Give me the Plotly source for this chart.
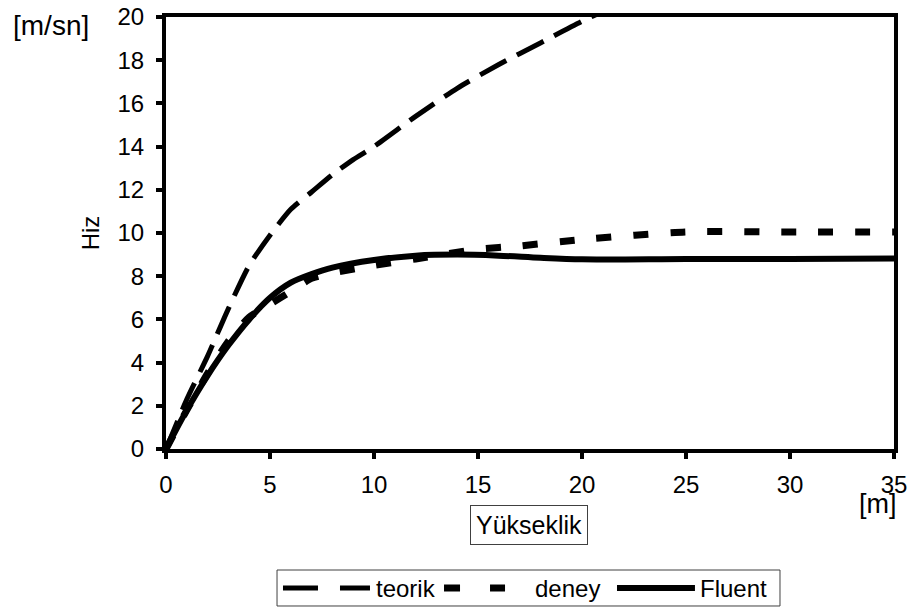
import plotly.graph_objects as go

# Yükseklik [m]
teorik_x = [0, 1, 2, 3, 4, 5, 6, 7, 8, 9, 10, 12, 14, 16, 18, 20, 22]
teorik_y = [0, 2.3, 4.3, 6.5, 8.5, 9.9, 11.1, 11.9, 12.7, 13.4, 14.0, 15.4, 16.7, 17.8, 18.8, 19.8, 20.7]

deney_x = [0, 1, 2, 3, 4, 5, 6, 7, 8, 10, 12, 15, 17, 20, 25, 30, 35]
deney_y = [0, 1.8, 3.5, 5.0, 6.1, 6.7, 7.3, 7.9, 8.15, 8.5, 8.8, 9.25, 9.4, 9.7, 10.05, 10.05, 10.05]

fluent_x = [0, 1, 2, 3, 4, 5, 6, 7, 8, 10, 12, 14, 16, 18, 20, 25, 30, 35]
fluent_y = [0, 1.8, 3.4, 4.8, 6.0, 7.0, 7.7, 8.1, 8.4, 8.75, 8.95, 9.0, 8.95, 8.85, 8.78, 8.8, 8.8, 8.82]

x_ticks = [0, 5, 10, 15, 20, 25, 30, 35]
y_ticks = [0, 2, 4, 6, 8, 10, 12, 14, 16, 18, 20]

series_names = ["teorik", "deney", "Fluent"]

FONT = "Liberation Sans, Arial, sans-serif"

styles = {
    "teorik": dict(color="black", width=5, dash="30px,12px"),
    "deney": dict(color="black", width=7, dash="15px,22px"),
    "Fluent": dict(color="black", width=6, dash="solid"),
}

fig = go.Figure()
fig.add_trace(go.Scatter(x=teorik_x, y=teorik_y, mode="lines", name=series_names[0],
                         line=dict(**styles["teorik"], shape="spline", smoothing=0.6)))
fig.add_trace(go.Scatter(x=deney_x, y=deney_y, mode="lines", name=series_names[1],
                         line=dict(**styles["deney"], shape="spline", smoothing=0.6)))
fig.add_trace(go.Scatter(x=fluent_x, y=fluent_y, mode="lines", name=series_names[2],
                         line=dict(**styles["Fluent"], shape="spline", smoothing=0.8)))

# Custom legend (Excel-style long samples), paper coordinates
LEG_Y = -0.3218
shapes = [
    dict(type="rect", xref="paper", yref="paper", x0=0.1525, x1=0.8434, y0=-0.3634, y1=-0.2801,
         line=dict(color="#404040", width=1), fillcolor="white", layer="above"),
    dict(type="line", xref="paper", yref="paper", x0=0.1607, x1=0.2802, y0=LEG_Y, y1=LEG_Y,
         line=dict(color="black", width=5, dash="35px,22px")),
    dict(type="line", xref="paper", yref="paper", x0=0.3819, x1=0.4657, y0=LEG_Y, y1=LEG_Y,
         line=dict(color="black", width=7, dash="16px,30px")),
    dict(type="line", xref="paper", yref="paper", x0=0.6195, x1=0.7266, y0=LEG_Y, y1=LEG_Y,
         line=dict(color="black", width=6)),
]
legend_text_x = [0.2857, 0.5041, 0.7308]

annotations = [
    dict(text="[m/sn]", x=-0.158, y=0.981, xref="paper", yref="paper",
         showarrow=False, font=dict(size=28), xanchor="center", yanchor="middle"),
    dict(text="[m]", x=0.978, y=-0.127, xref="paper", yref="paper",
         showarrow=False, font=dict(size=27), xanchor="center", yanchor="middle"),
    dict(text="Yükseklik", x=0.4986, y=-0.176, xref="paper", yref="paper",
         showarrow=False, font=dict(size=25), xanchor="center", yanchor="middle",
         bordercolor="#404040", borderwidth=1, borderpad=5, bgcolor="white"),
]
for name, tx in zip(series_names, legend_text_x):
    annotations.append(dict(text=name, x=tx, y=LEG_Y, xref="paper", yref="paper",
                            showarrow=False, font=dict(size=24), xanchor="left", yanchor="middle"))

fig.update_layout(
    width=911, height=610,
    margin=dict(l=166, r=17, t=17, b=161, autoexpand=False),
    paper_bgcolor="white", plot_bgcolor="white",
    font=dict(family=FONT, size=24, color="black"),
    showlegend=False,
    xaxis=dict(range=[0, 35], tickvals=x_ticks, ticktext=[str(v) for v in x_ticks],
               showgrid=False, zeroline=False, showline=True, linecolor="black", linewidth=4,
               mirror=True, ticks="outside", ticklen=6, tickwidth=4, tickcolor="black",
               ticklabelstandoff=5, tickfont=dict(size=24), automargin=False),
    yaxis=dict(range=[0, 20], tickvals=y_ticks, ticktext=[str(v) for v in y_ticks],
               showgrid=False, zeroline=False, showline=True, linecolor="black", linewidth=4,
               mirror=True, ticks="outside", ticklen=6, tickwidth=4, tickcolor="black",
               ticklabelstandoff=7, tickfont=dict(size=24), automargin=False,
               title=dict(text="Hiz", font=dict(size=24), standoff=12)),
    shapes=shapes,
    annotations=annotations,
)

fig.write_html(
    "out.html",
    config={"displayModeBar": False},
    post_script="document.body.style.margin='0';document.body.style.overflow='hidden';",
)
